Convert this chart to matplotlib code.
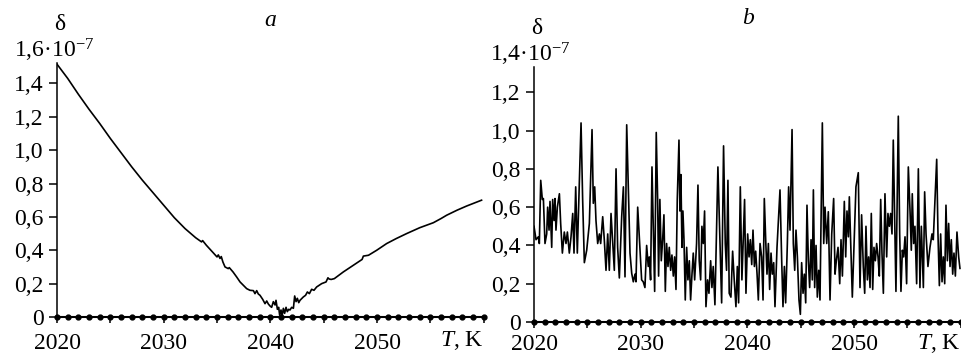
import matplotlib
matplotlib.use("Agg")
import matplotlib.pyplot as plt

# panel a: delta (units of 1e-7) vs T
t_a = [2020.0, 2021.0, 2022.0, 2023.0, 2024.0, 2025.0, 2026.0, 2027.0, 2028.0, 2029.0,
       2030.0, 2031.0, 2032.0, 2033.0, 2033.55, 2033.65, 2034.0, 2034.5, 2035.0, 2035.12,
       2035.28, 2035.4, 2035.55, 2035.75, 2036.05, 2036.15, 2036.5, 2036.84, 2037.16, 2037.47,
       2037.78, 2038.09, 2038.41, 2038.56, 2038.72, 2038.87, 2039.03, 2039.28, 2039.5, 2039.66,
       2039.81, 2039.97, 2040.12, 2040.28, 2040.44, 2040.53, 2040.66, 2040.78, 2040.87, 2041.0,
       2041.09, 2041.22, 2041.34, 2041.47, 2041.59, 2041.72, 2041.84, 2042.0, 2042.16, 2042.28,
       2042.41, 2042.53, 2042.66, 2042.78, 2043.09, 2043.3, 2043.47, 2043.66, 2043.87, 2044.09,
       2044.34, 2044.81, 2045.22, 2045.4, 2045.5, 2045.7, 2046.0, 2046.84, 2047.78, 2048.6,
       2048.72, 2049.2, 2049.97, 2050.9, 2051.8, 2052.78, 2054.0, 2055.28, 2056.0, 2056.53,
       2057.5, 2058.4, 2059.8]
d_a = [1.515, 1.43, 1.335, 1.245, 1.16, 1.07, 0.985, 0.90, 0.82, 0.745,
       0.67, 0.595, 0.53, 0.475, 0.45, 0.458, 0.43, 0.395, 0.36, 0.372,
       0.351, 0.362, 0.33, 0.30, 0.29, 0.296, 0.27, 0.24, 0.21, 0.19,
       0.17, 0.16, 0.158, 0.14, 0.158, 0.138, 0.13, 0.106, 0.08, 0.096,
       0.078, 0.066, 0.058, 0.092, 0.072, 0.10, 0.046, 0.058, 0.012, 0.042,
       0.002, 0.052, 0.022, 0.058, 0.032, 0.046, 0.042, 0.058, 0.052, 0.126,
       0.092, 0.112, 0.086, 0.10, 0.12, 0.13, 0.15, 0.14, 0.166, 0.16,
       0.18, 0.20, 0.21, 0.235, 0.228, 0.225, 0.23, 0.27, 0.31, 0.345,
       0.365, 0.37, 0.40, 0.44, 0.47, 0.50, 0.535, 0.565, 0.59, 0.61,
       0.64, 0.665, 0.70]

# panel b, split by decade
t_b1 = [2020.00, 2020.19, 2020.41, 2020.50, 2020.63, 2020.78, 2020.88, 2021.03, 2021.19, 2021.28,
        2021.41, 2021.50, 2021.66, 2021.75, 2021.88, 2021.97, 2022.06, 2022.19, 2022.38, 2022.50,
        2022.66, 2022.84, 2023.00, 2023.13, 2023.31, 2023.47, 2023.63, 2023.75, 2023.91, 2024.06,
        2024.41, 2024.56, 2024.72, 2024.94, 2025.19, 2025.44, 2025.56, 2025.69, 2025.81, 2025.97,
        2026.13, 2026.25, 2026.44, 2026.59, 2026.75, 2026.91, 2027.06, 2027.22, 2027.38, 2027.53,
        2027.69, 2027.84, 2028.00, 2028.22, 2028.38, 2028.53, 2028.69, 2028.84, 2029.00, 2029.16,
        2029.31, 2029.47, 2029.56, 2029.72, 2029.94]
d_b1 = [0.50, 0.43, 0.445, 0.41, 0.74, 0.64, 0.645, 0.41, 0.46, 0.60,
        0.48, 0.63, 0.39, 0.64, 0.53, 0.645, 0.48, 0.60, 0.67, 0.515,
        0.36, 0.47, 0.41, 0.47, 0.36, 0.445, 0.567, 0.36, 0.706, 0.36,
        1.04, 0.64, 0.31, 0.375, 0.515, 1.005, 0.62, 0.706, 0.53, 0.41,
        0.46, 0.41, 0.55, 0.43, 0.27, 0.46, 0.27, 0.567, 0.41, 0.27,
        0.80, 0.39, 0.23, 0.55, 0.706, 0.236, 1.03, 0.706, 0.36, 0.254,
        0.21, 0.25, 0.21, 0.60, 0.375]

t_b2 = [2030.09, 2030.24, 2030.40, 2030.56, 2030.71, 2030.81, 2030.93, 2031.06, 2031.18, 2031.31,
        2031.46, 2031.59, 2031.68, 2031.80, 2031.93, 2032.06, 2032.18, 2032.31, 2032.43, 2032.56,
        2032.68, 2032.81, 2032.93, 2033.06, 2033.18, 2033.31, 2033.43, 2033.59, 2033.68, 2033.77,
        2033.87, 2033.96, 2034.06, 2034.18, 2034.31, 2034.43, 2034.56, 2034.68, 2034.81, 2034.93,
        2035.06, 2035.24, 2035.37, 2035.49, 2035.62, 2035.74, 2035.87, 2035.99, 2036.12, 2036.27,
        2036.40, 2036.56, 2036.68, 2036.80, 2036.96, 2037.05, 2037.24, 2037.43, 2037.59, 2037.77,
        2037.93, 2038.05, 2038.18, 2038.30, 2038.46, 2038.62, 2038.77, 2038.93, 2039.06, 2039.18,
        2039.34, 2039.49, 2039.62, 2039.74, 2039.87]
d_b2 = [0.22, 0.21, 0.18, 0.40, 0.29, 0.34, 0.22, 0.81, 0.50, 0.16,
        0.99, 0.64, 0.24, 0.64, 0.32, 0.43, 0.56, 0.16, 0.41, 0.29,
        0.39, 0.27, 0.35, 0.24, 0.34, 0.17, 0.64, 0.95, 0.58, 0.77,
        0.39, 0.58, 0.43, 0.115, 0.39, 0.22, 0.32, 0.115, 0.25, 0.36,
        0.22, 0.41, 0.715, 0.32, 0.22, 0.50, 0.41, 0.58, 0.08, 0.22,
        0.15, 0.32, 0.18, 0.29, 0.09, 0.32, 0.81, 0.43, 0.10, 0.92,
        0.41, 0.27, 0.74, 0.15, 0.13, 0.37, 0.22, 0.08, 0.29, 0.10,
        0.706, 0.22, 0.43, 0.64, 0.15]

t_b3 = [2040.03, 2040.16, 2040.28, 2040.41, 2040.53, 2040.66, 2040.78, 2040.91, 2041.03, 2041.19,
        2041.34, 2041.47, 2041.59, 2041.72, 2041.84, 2041.97, 2042.09, 2042.22, 2042.34, 2042.47,
        2042.59, 2042.78, 2043.06, 2043.22, 2043.34, 2043.47, 2043.59, 2043.75, 2043.87, 2044.00,
        2044.19, 2044.31, 2044.44, 2044.56, 2044.69, 2044.84, 2044.97, 2045.09, 2045.22, 2045.34,
        2045.47, 2045.59, 2045.72, 2045.84, 2045.97, 2046.09, 2046.19, 2046.31, 2046.44, 2046.56,
        2046.69, 2046.81, 2047.03, 2047.16, 2047.28, 2047.44, 2047.59, 2047.75, 2047.91, 2048.09,
        2048.22, 2048.34, 2048.50, 2048.66, 2048.78, 2048.91, 2049.09, 2049.22, 2049.34, 2049.47,
        2049.56, 2049.72, 2049.84]
d_b3 = [0.46, 0.34, 0.43, 0.30, 0.48, 0.29, 0.37, 0.25, 0.115, 0.41,
        0.34, 0.115, 0.645, 0.43, 0.25, 0.41, 0.17, 0.36, 0.25, 0.31,
        0.08, 0.39, 0.69, 0.32, 0.08, 0.29, 0.10, 0.41, 0.706, 0.48,
        1.005, 0.41, 0.27, 0.48, 0.34, 0.115, 0.04, 0.31, 0.15, 0.25,
        0.10, 0.61, 0.32, 0.18, 0.43, 0.22, 0.69, 0.18, 0.40, 0.13,
        0.27, 0.115, 1.04, 0.41, 0.60, 0.41, 0.576, 0.115, 0.46, 0.645,
        0.25, 0.32, 0.39, 0.20, 0.43, 0.24, 0.63, 0.34, 0.58, 0.445,
        0.654, 0.36, 0.13]

t_b4 = [2050.18, 2050.40, 2050.56, 2050.71, 2050.87, 2051.00, 2051.12, 2051.25, 2051.37, 2051.50,
        2051.62, 2051.75, 2051.87, 2052.00, 2052.12, 2052.25, 2052.37, 2052.50, 2052.62, 2052.75,
        2052.90, 2053.06, 2053.18, 2053.31, 2053.43, 2053.56, 2053.68, 2053.81, 2053.93, 2054.15,
        2054.28, 2054.40, 2054.53, 2054.65, 2054.78, 2054.93, 2055.09, 2055.25, 2055.37, 2055.46,
        2055.59, 2055.71, 2055.87, 2056.03, 2056.18, 2056.31, 2056.50, 2056.62, 2056.75, 2056.93,
        2057.12, 2057.31, 2057.43, 2057.75, 2057.87, 2058.00, 2058.12, 2058.25, 2058.37, 2058.50,
        2058.62, 2058.75, 2058.87, 2059.00, 2059.12, 2059.25, 2059.37, 2059.50, 2059.65, 2059.81,
        2059.93]
d_b4 = [0.706, 0.78, 0.18, 0.56, 0.29, 0.15, 0.50, 0.22, 0.34, 0.18,
        0.567, 0.17, 0.39, 0.32, 0.41, 0.34, 0.24, 0.64, 0.36, 0.15,
        0.67, 0.34, 0.567, 0.50, 0.567, 0.46, 0.95, 0.53, 0.16, 1.075,
        0.46, 0.16, 0.375, 0.34, 0.445, 0.20, 0.81, 0.58, 0.375, 0.67,
        0.41, 0.50, 0.20, 0.80, 0.18, 0.50, 0.18, 0.68, 0.46, 0.29,
        0.39, 0.46, 0.43, 0.85, 0.46, 0.19, 0.46, 0.21, 0.34, 0.20,
        0.61, 0.32, 0.515, 0.29, 0.43, 0.25, 0.36, 0.24, 0.47, 0.34,
        0.28]

# second series lying on the axis (dots every 1 K)
zero_T = [2020, 2021, 2022, 2023, 2024, 2025, 2026, 2027, 2028, 2029,
          2030, 2031, 2032, 2033, 2034, 2035, 2036, 2037, 2038, 2039,
          2040, 2041, 2042, 2043, 2044, 2045, 2046, 2047, 2048, 2049,
          2050, 2051, 2052, 2053, 2054, 2055, 2056, 2057, 2058, 2059, 2060]
zero_d = [0.0] * len(zero_T)

x_ticks = [2020, 2025, 2030, 2035, 2040, 2045, 2050, 2055, 2060]
x_labels = ["2020", "", "2030", "", "2040", "", "2050", "", ""]
y_ticks_a = [0, 0.2, 0.4, 0.6, 0.8, 1.0, 1.2, 1.4]
y_ticks_b = [0, 0.2, 0.4, 0.6, 0.8, 1.0, 1.2]

t_b = t_b1 + t_b2 + t_b3 + t_b4
d_b = d_b1 + d_b2 + d_b3 + d_b4
assert len(t_b) == len(d_b) and len(t_a) == len(d_a)

plt.rcParams["font.family"] = ["Liberation Serif", "DejaVu Serif"]
plt.rcParams["mathtext.fontset"] = "custom"
plt.rcParams["mathtext.rm"] = "Liberation Serif"
plt.rcParams["mathtext.it"] = "Liberation Serif:italic"

W, H = 962, 356
FS = 17


def box(x0, y0, x1, y1):
    return [x0 / W, 1 - y1 / H, (x1 - x0) / W, (y1 - y0) / H]


def style(ax, yticks, ytop, spine_top, top_label, label_dx, xpad, tk_dy):
    ax.set_xlim(2020, 2060)
    ax.set_ylim(0, ytop)
    ax.set_xticks(x_ticks)
    ax.set_xticklabels(x_labels)
    ax.set_yticks(yticks)
    ax.set_yticklabels([("%.1f" % v).replace(".", ",") if v else "0" for v in yticks])
    for s in ["top", "right"]:
        ax.spines[s].set_visible(False)
    for s in ["left", "bottom"]:
        ax.spines[s].set_linewidth(1.1)
    ax.spines["left"].set_bounds(0, spine_top)
    ax.tick_params(axis="x", direction="out", length=4.5, width=1.1,
                   labelsize=FS, pad=xpad)
    ax.tick_params(axis="y", direction="out", length=5.5, width=1.1,
                   labelsize=FS, pad=4)
    ax.annotate(top_label, xy=(0, ytop), xycoords=("axes fraction", "data"),
                xytext=(label_dx, 0), textcoords="offset points",
                ha="left", va="center", fontsize=FS, annotation_clip=False)
    ax.annotate("$T$, K", xy=(1, 0), xycoords="axes fraction",
                xytext=(0, tk_dy), textcoords="offset points",
                ha="right", va="center", fontsize=FS, annotation_clip=False)


fig = plt.figure(figsize=(W / 100, H / 100), dpi=100)
ax_a = fig.add_axes(box(57, 50, 483.7, 317))
ax_b = fig.add_axes(box(534, 54, 960.7, 322))

ax_a.plot(t_a, d_a, color="black", lw=1.2)
ax_b.plot(t_b, d_b, color="black", lw=1.2)
for ax in (ax_a, ax_b):
    ax.plot(zero_T, zero_d, color="black", lw=1.5, marker="o", ms=3.5,
            clip_on=False, zorder=3)

style(ax_a, y_ticks_a, 1.6, 1.52, "1,6·10$^{-7}$", -31, 7, -17)
style(ax_b, y_ticks_b, 1.4, 1.33, "1,4·10$^{-7}$", -32, 4.5, -15.5)

fig.text(60 / W, 1 - 25 / H, "δ", ha="center", va="center", fontsize=FS)
fig.text(537 / W, 1 - 29 / H, "δ", ha="center", va="center", fontsize=FS)
fig.text(270 / W, 1 - 20 / H, "a", ha="center", va="center", fontsize=FS,
         style="italic")
fig.text(748 / W, 1 - 18 / H, "b", ha="center", va="center", fontsize=FS,
         style="italic")

fig.savefig("out.png", dpi=100)
